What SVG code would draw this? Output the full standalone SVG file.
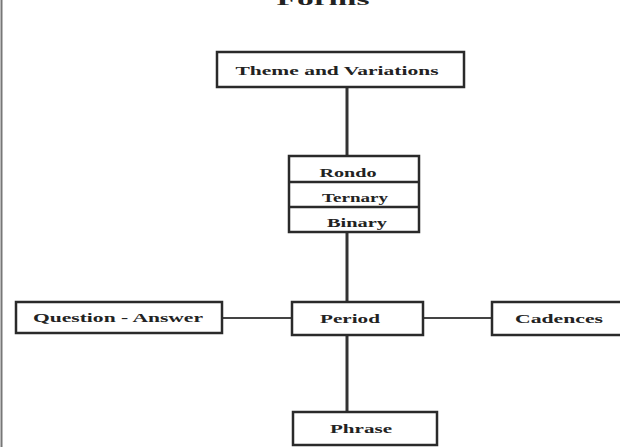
<svg xmlns="http://www.w3.org/2000/svg" width="620" height="447" viewBox="0 0 620 447">
<style>
.box{fill:#fff;stroke:#2a2a2a;stroke-width:2.5}
.lbl{font-family:"Liberation Serif","Times New Roman",serif;font-size:12px;font-weight:bold;fill:#222;text-anchor:middle}
.conn{stroke:#333;stroke-width:3;fill:none}
.hconn{stroke:#444;stroke-width:2;fill:none}
</style>
<rect width="620" height="447" fill="#fff"/>
<line x1="1.5" y1="0" x2="1.5" y2="447" stroke="#777" stroke-width="2"/>
<text x="323" y="5" class="lbl" style="font-size:16px" textLength="93" lengthAdjust="spacingAndGlyphs">Forms</text>
<g id="connectors">
<line class="conn" x1="347" y1="88" x2="347" y2="156"/>
<line class="conn" x1="347" y1="232" x2="347" y2="302"/>
<line class="hconn" x1="222" y1="318" x2="292" y2="318"/>
<line class="hconn" x1="423" y1="318" x2="492" y2="318"/>
<line class="conn" x1="347" y1="335" x2="347" y2="412"/>
</g>
<g id="theme">
<rect class="box" x="217" y="52" width="247" height="35"/>
<text class="lbl" x="337" y="75" textLength="203" lengthAdjust="spacingAndGlyphs">Theme and Variations</text>
</g>
<g id="stack">
<rect class="box" x="289" y="156" width="130" height="76"/>
<line stroke="#2a2a2a" stroke-width="2.5" x1="289" y1="182" x2="419" y2="182"/>
<line stroke="#2a2a2a" stroke-width="2.5" x1="289" y1="207" x2="419" y2="207"/>
<text class="lbl" x="348" y="177" textLength="57" lengthAdjust="spacingAndGlyphs">Rondo</text>
<text class="lbl" x="355" y="202" textLength="66" lengthAdjust="spacingAndGlyphs">Ternary</text>
<text class="lbl" x="357" y="227" textLength="60" lengthAdjust="spacingAndGlyphs">Binary</text>
</g>
<g id="question">
<rect class="box" x="16" y="302" width="206" height="31"/>
<text class="lbl" x="118" y="322" textLength="170" lengthAdjust="spacingAndGlyphs">Question - Answer</text>
</g>
<g id="period">
<rect class="box" x="292" y="302" width="131" height="33"/>
<text class="lbl" x="350" y="323" textLength="60" lengthAdjust="spacingAndGlyphs">Period</text>
</g>
<g id="cadences">
<rect class="box" x="492" y="302" width="140" height="33"/>
<text class="lbl" x="559" y="323" textLength="88" lengthAdjust="spacingAndGlyphs">Cadences</text>
</g>
<g id="phrase">
<rect class="box" x="293" y="412" width="144" height="33"/>
<text class="lbl" x="361" y="433" textLength="62" lengthAdjust="spacingAndGlyphs">Phrase</text>
</g>
</svg>
